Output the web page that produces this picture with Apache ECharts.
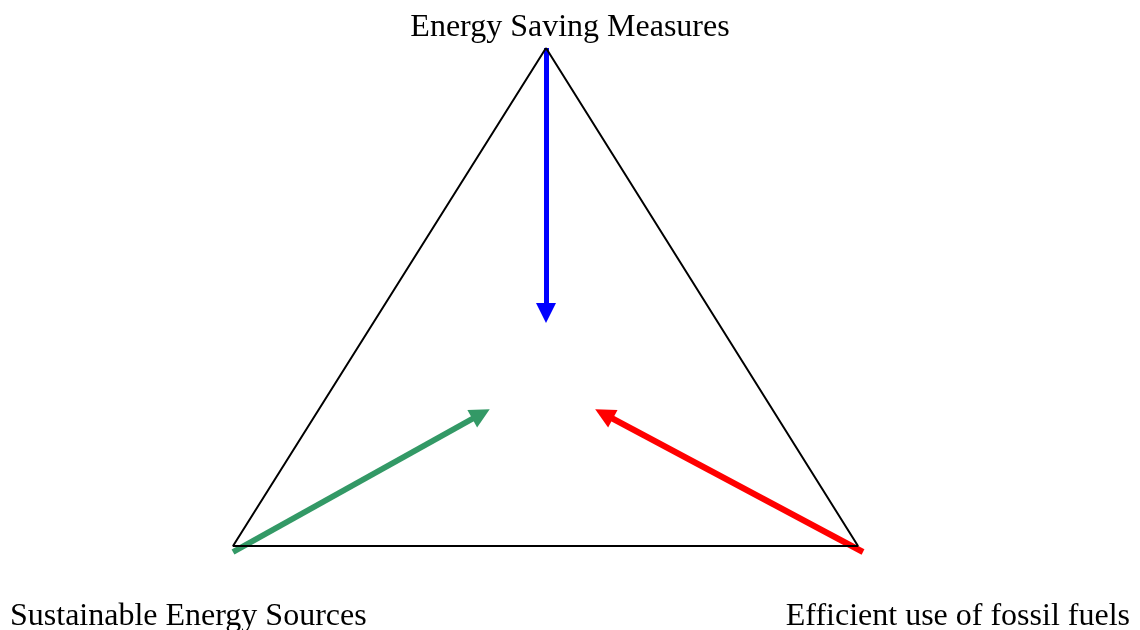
<!DOCTYPE html>
<html>
<head>
<meta charset="utf-8">
<script src="https://cdn.jsdelivr.net/npm/echarts@6/dist/echarts.min.js"></script>
<style>
  html, body { margin: 0; padding: 0; background: #fff; }
  #chart { width: 1140px; height: 630px; }
</style>
</head>
<body>
<div id="chart"></div>
<script>
// triangle corners (top, bottom left, bottom right), plane units
var esquinas = [[546, 48], [233, 546], [858, 546], [546, 48]];

// arrows: from -> to
var flechaAzul = [[546, 48], [546, 313]];
var flechaVerde = [[233, 552], [481, 414]];
var flechaRoja = [[863, 552], [604, 414]];

// labels and where they sit
var etiquetas = ["Energy Saving Measures", "Sustainable Energy Sources", "Efficient use of fossil fuels"];
var posEtiquetas = [[570, 28], [10, 617], [1130, 617]];
var alineacion = ["center", "left", "right"];

var chartDom = document.getElementById("chart");
var myChart = echarts.init(chartDom);

function flecha(puntos, color, ancho) {
	return {
		type: "lines",
		coordinateSystem: "cartesian2d",
		polyline: false,
		symbol: ["none", "triangle"],
		symbolSize: 20,
		silent: true,
		lineStyle: { color: color, width: ancho, opacity: 1, curveness: 0 },
		data: [{ coords: puntos }]
	};
}

var option = {
	animation: false,
	backgroundColor: "#fff",
	grid: { left: 0, right: 0, top: 0, bottom: 0 },
	xAxis: { type: "value", min: 0, max: 1140, show: false },
	yAxis: { type: "value", min: 0, max: 630, inverse: true, show: false },
	series: [
		{
			type: "line",
			data: esquinas,
			symbol: "none",
			silent: true,
			lineStyle: { color: "#000", width: 2 }
		},
		flecha(flechaAzul, "#0000ff", 5),
		flecha(flechaVerde, "#339966", 6),
		flecha(flechaRoja, "#ff0000", 6),
		{
			type: "scatter",
			symbolSize: 0,
			silent: true,
			itemStyle: { opacity: 1 },
			data: etiquetas.map(function (t, i) {
				return {
					value: posEtiquetas[i],
					name: t,
					label: {
						show: true,
						position: "inside",
						align: alineacion[i],
						verticalAlign: "middle",
						formatter: "{b}",
						fontFamily: "Liberation Serif",
						fontSize: 32,
						color: "#000",
						opacity: 1
					}
				};
			})
		}
	]
};
myChart.setOption(option);
</script>
</body>
</html>
